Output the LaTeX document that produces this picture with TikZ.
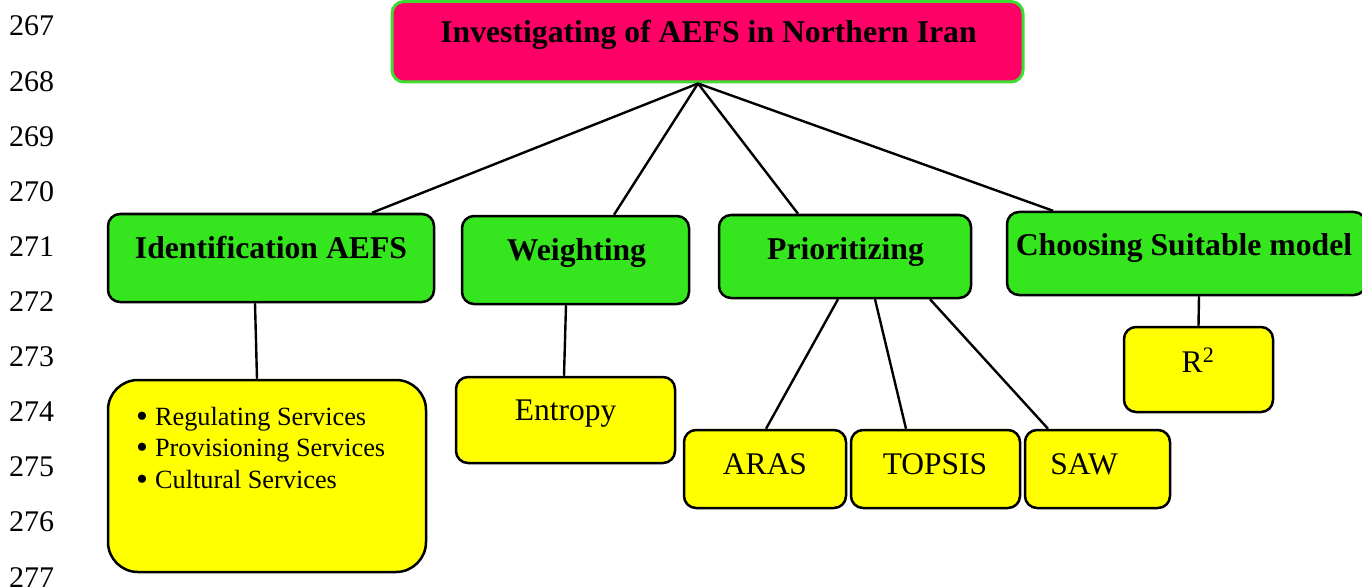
\documentclass[tikz,border=0pt]{standalone}
\usepackage{fontspec}
\setmainfont{Liberation Serif}
\definecolor{titlefill}{RGB}{255,0,102}
\definecolor{titleline}{RGB}{60,220,50}
\definecolor{gfill}{RGB}{53,230,30}
\definecolor{yfill}{RGB}{255,255,0}
\newcommand{\bigbul}{\raisebox{-2.7pt}{\fontsize{34}{30}\selectfont •}}
\tikzset{
  box/.style={draw=black, line width=2.5pt, inner sep=0pt, rounded corners=12pt},
  gbox/.style={box, fill=gfill},
  ybox/.style={box, fill=yfill},
  tbox/.style={draw=titleline, fill=titlefill, line width=3pt, inner sep=0pt, rounded corners=12pt},
  conn/.style={draw=black, line width=2.4pt},
  btxt/.style={anchor=base, inner sep=0pt, font=\fontsize{31.7}{36}\selectfont\bfseries},
  rtxt/.style={anchor=base, inner sep=0pt, font=\fontsize{31.5}{36}\selectfont},
  ltxt/.style={anchor=base west, inner sep=0pt, font=\fontsize{26.3}{30}\selectfont},
  lnum/.style={anchor=base west, inner sep=0pt, font=\fontsize{30}{32}\selectfont},
}
\begin{document}
\begin{tikzpicture}[x=1pt,y=-1pt]
\useasboundingbox (0,0) rectangle (1362,588);
% line numbers
\foreach \n [count=\i from 0] in {267,...,277}
  \node[lnum] (ln\n) at (9,{36+55.1*\i}) {\n};
% boxes
\node[tbox, minimum width=631pt, minimum height=80.5pt] (title) at (707.5,41.75) {};
\node[gbox, minimum width=326pt, minimum height=88pt] (ident) at (271,258) {};
\node[gbox, minimum width=227pt, minimum height=88pt] (weight) at (575.5,260) {};
\node[gbox, minimum width=252pt, minimum height=83pt] (prior) at (845,256.5) {};
\node[gbox, minimum width=359pt, minimum height=83pt] (choose) at (1186.5,253.5) {};
\node[ybox, rounded corners=30pt, minimum width=318pt, minimum height=192pt] (serv) at (267,476) {};
\node[ybox, minimum width=219pt, minimum height=86pt] (entropy) at (565.5,420) {};
\node[ybox, minimum width=162pt, minimum height=78pt] (aras) at (765,469) {};
\node[ybox, minimum width=169pt, minimum height=78pt] (topsis) at (935.5,469) {};
\node[ybox, minimum width=145pt, minimum height=78pt] (saw) at (1097.5,469) {};
\node[ybox, minimum width=149pt, minimum height=85pt] (rsq) at (1198.5,369.5) {};
% texts
\node[btxt] (titletxt) at (708.5,43) {Investigating of AEFS in Northern Iran};
\node[btxt] (identtxt) at (271,258) {Identification AEFS};
\node[btxt] (weighttxt) at (576.5,260) {Weighting};
\node[btxt] (priortxt) at (845.5,259) {Prioritizing};
\node[btxt] (choosetxt) at (1184,255) {Choosing Suitable model};
\node[rtxt] (entropytxt) at (565.5,420) {Entropy};
\node[rtxt] (arastxt) at (765,474) {ARAS};
\node[rtxt] (topsistxt) at (935,474) {TOPSIS};
\node[rtxt] (sawtxt) at (1084,474) {SAW};
\node[rtxt] (rsqtxt) at (1198,372) {R\textsuperscript{2}};
\node[ltxt] (b1) at (136,425) {\bigbul\hspace{7pt}Regulating Services};
\node[ltxt] (b2) at (136,456) {\bigbul\hspace{7pt}Provisioning Services};
\node[ltxt] (b3) at (136,488) {\bigbul\hspace{7pt}Cultural Services};
% connectors
\draw[conn] ([xshift=-9.5pt]title.south) -- ([xshift=101pt]ident.north);
\draw[conn] ([xshift=-9.5pt]title.south) -- ([xshift=38.5pt]weight.north);
\draw[conn] ([xshift=-9.5pt]title.south) -- ([xshift=-47pt]prior.north);
\draw[conn] ([xshift=-9.5pt]title.south) -- ([xshift=-133.5pt]choose.north);
\draw[conn] ([xshift=-16pt]ident.south) -- ([xshift=-10pt]serv.north);
\draw[conn] ([xshift=-9.5pt]weight.south) -- ([xshift=-1.5pt]entropy.north);
\draw[conn] ([xshift=-7pt]prior.south) -- ([xshift=1pt]aras.north);
\draw[conn] ([xshift=30pt]prior.south) -- ([xshift=-29.5pt]topsis.north);
\draw[conn] ([xshift=85pt]prior.south) -- ([xshift=-49.5pt]saw.north);
\draw[conn] ([xshift=12.5pt]choose.south) -- ([xshift=0pt]rsq.north);
\end{tikzpicture}
\end{document}
